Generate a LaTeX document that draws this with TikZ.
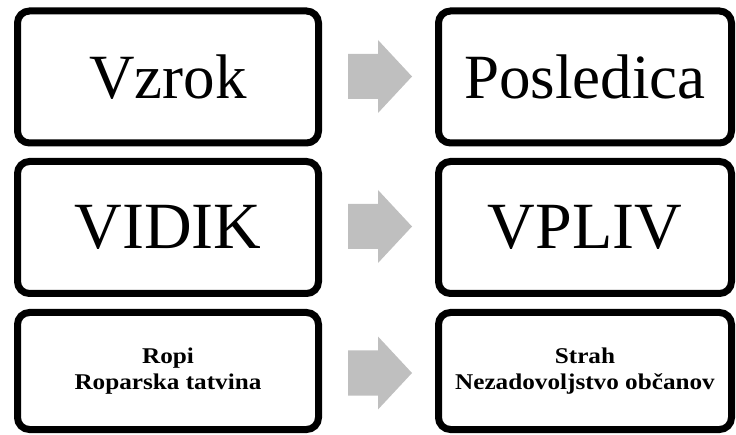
\documentclass[tikz,border=0pt]{standalone}
\usepackage{fontspec}
\setmainfont{Liberation Serif}
\newfontfamily\widefont[FakeStretch=1.12]{Liberation Serif}
\definecolor{arrowgray}{HTML}{BFBFBF}
\begin{document}
\begin{tikzpicture}[x=1pt,y=-1pt,
  box/.style={draw=black, line width=7pt, rounded corners=12pt, fill=white,
    inner sep=0pt, align=center},
  bigtxt/.style={font=\fontsize{63}{70}\selectfont},
  smalltxt/.style={font=\widefont\bfseries\fontsize{22.5}{26}\selectfont},
  grayarrow/.style={fill=arrowgray, draw=none}]
\useasboundingbox (0,0) rectangle (736,435);
% boxes
\node[box, bigtxt, minimum width=301pt, minimum height=132pt] (vzrok) at (168,77) {Vzrok};
\node[box, bigtxt, minimum width=293pt, minimum height=132pt] (posl) at (585,77) {Posledica};
\node[box, font=\fontsize{66}{72}\selectfont, minimum width=301pt, minimum height=132pt] (vidik) at (168,227.5) {VIDIK};
\node[box, font=\fontsize{66}{72}\selectfont, minimum width=293pt, minimum height=132pt] (vpliv) at (585,227.5) {VPLIV};
\node[box, smalltxt, minimum width=301pt, minimum height=117pt] (ropi) at (168,371) {Ropi\\Roparska tatvina};
\node[box, smalltxt, minimum width=293pt, minimum height=117pt] (strah) at (585,371) {Strah\\Nezadovoljstvo občanov};
% block arrows
\foreach \yc in {76.5,226.5,373} {
  \fill[grayarrow] (348,\yc-22.5) -- (378,\yc-22.5) -- (378,\yc-36.5) -- (412,\yc)
     -- (378,\yc+36.5) -- (378,\yc+22.5) -- (348,\yc+22.5) -- cycle;
}
\end{tikzpicture}
\end{document}
